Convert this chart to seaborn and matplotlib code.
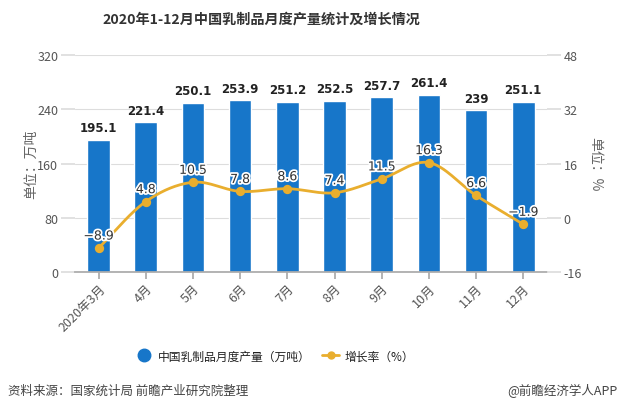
import numpy as np
import pandas as pd
import matplotlib
matplotlib.use("Agg")
import matplotlib.pyplot as plt
import matplotlib.patheffects as pe
from matplotlib.lines import Line2D
import seaborn as sns

months = ["2020年3月", "4月", "5月", "6月", "7月", "8月", "9月", "10月", "11月", "12月"]
output = [195.1, 221.4, 250.1, 253.9, 251.2, 252.5, 257.7, 261.4, 239, 251.1]
growth = [-8.9, 4.8, 10.5, 7.8, 8.6, 7.4, 11.5, 16.3, 6.6, -1.9]
output_labels = ["195.1", "221.4", "250.1", "253.9", "251.2", "252.5", "257.7", "261.4", "239", "251.1"]
left_ticks = [0, 80, 160, 240, 320]
right_ticks = [-16, 0, 16, 32, 48]

sns.set_theme(style="white")
plt.rcParams['font.family'] = ['Noto Sans CJK SC', 'DejaVu Sans']
plt.rcParams['axes.unicode_minus'] = False

BLUE = "#1776C9"
ORANGE = "#E9AE2E"
TXT = "#555555"
GRID = "#DDDDDD"

fig = plt.figure(figsize=(6.2, 4.1), dpi=100)
ax = fig.add_axes([0.121, 0.334, 0.761, 0.529])

df = pd.DataFrame({"month": months, "output": output, "growth": growth})
sns.barplot(data=df, x="month", y="output", color=BLUE, saturation=1, width=0.48, ax=ax, zorder=2)
ax.set_xlim(-0.5, 9.5)
ax.set_ylim(0, 320)
ax.set_yticks(left_ticks)
ax.grid(axis="y", color=GRID, linewidth=0.8, zorder=0)
ax.set_axisbelow(True)
for s in ["top", "right", "left"]:
    ax.spines[s].set_visible(False)
ax.spines["bottom"].set_color("#AAAAAA")
ax.tick_params(axis="y", length=10, color=GRID, labelsize=9, labelcolor=TXT, pad=2, left=True)
ax.tick_params(axis="x", length=5, color="#AAAAAA", labelsize=9, labelcolor=TXT, bottom=True, pad=2)
ax.set_xticks(range(len(months)))
ax.set_xticklabels(months, rotation=45, ha="right", rotation_mode="anchor")
ax.set_xlabel("")
ax.set_ylabel("单位：万吨", fontsize=10, color="#666666", va="center")
ax.yaxis.set_label_coords((31 - 75) / 472, 0.5)

for i, (v, lab) in enumerate(zip(output, output_labels)):
    ax.text(i, v + 8, lab, ha="center", va="bottom", fontsize=8.5, fontweight="bold",
            color="#222222", family=["DejaVu Sans"], zorder=5)

ax2 = ax.twinx()
ax2.set_ylim(-16, 48)
ax2.set_yticks(right_ticks)
for s in ["top", "right", "left", "bottom"]:
    ax2.spines[s].set_visible(False)
ax2.tick_params(axis="y", length=10, color=GRID, labelsize=9, labelcolor=TXT, pad=2, right=True)
ax2.set_ylabel("单位：%", fontsize=10, color="#666666", rotation=270, va="center")
ax2.yaxis.set_label_coords((595 - 75) / 472, 0.5)

# smooth curve through the data points (cubic Hermite rendering)
x = np.arange(len(growth), dtype=float)
y = np.array(growth, dtype=float)
xs, ys = [], []
t = np.linspace(0, 1, 30)
for i in range(len(x) - 1):
    p1, p2 = y[i], y[i + 1]
    m1 = 0.5 * (p2 - y[i - 1]) if i > 0 else (p2 - p1)
    m2 = 0.5 * (y[i + 2] - p1) if i + 2 < len(y) else (p2 - p1)
    h00 = 2 * t**3 - 3 * t**2 + 1
    h10 = t**3 - 2 * t**2 + t
    h01 = -2 * t**3 + 3 * t**2
    h11 = t**3 - t**2
    xs.extend(x[i] + t)
    ys.extend(h00 * p1 + h10 * m1 + h01 * p2 + h11 * m2)
ax2.plot(xs, ys, color=ORANGE, linewidth=2, zorder=3)
sns.scatterplot(x=x, y=y, color=ORANGE, s=45, edgecolor=ORANGE, linewidth=0, ax=ax2, zorder=4)

for i, g in enumerate(growth):
    s = f"{g:.1f}".replace("-", "−")
    ax2.text(i, g + 1.6, s, ha="center", va="bottom", fontsize=9, color="#333333",
             family=["DejaVu Sans"], zorder=6,
             path_effects=[pe.withStroke(linewidth=2.5, foreground="white")])

handles = [
    Line2D([0], [0], marker="o", color="none", markerfacecolor=BLUE, markeredgecolor=BLUE, markersize=9),
    Line2D([0], [0], marker="o", color=ORANGE, markerfacecolor=ORANGE, markeredgecolor=ORANGE,
           markersize=5, linewidth=2),
]
fig.legend(handles, ["中国乳制品月度产量（万吨）", "增长率（%）"], loc="center",
           bbox_to_anchor=(275 / 620, 1 - 357 / 410), ncol=2, frameon=False, fontsize=8.5,
           handlelength=1.4, columnspacing=1.0, handletextpad=0.5, labelcolor="#222222")

fig.text(261 / 620, 1 - 20 / 410, "2020年1-12月中国乳制品月度产量统计及增长情况", ha="center", va="center",
         fontsize=10.2, fontweight="bold", color="#333333")
fig.text(8 / 620, 1 - 391 / 410, "资料来源：国家统计局 前瞻产业研究院整理", ha="left", va="center",
         fontsize=9, color="#444444")
fig.text(617 / 620, 1 - 391 / 410, "@前瞻经济学人APP", ha="right", va="center",
         fontsize=9, color="#444444")

fig.savefig("out.png", dpi=100, facecolor="white")
